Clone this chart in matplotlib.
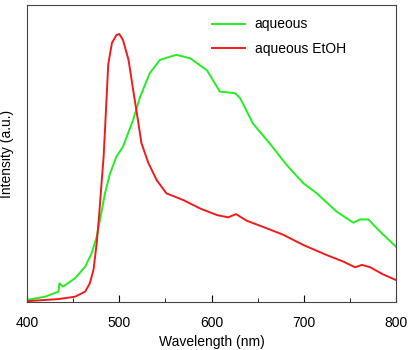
import numpy as np
import matplotlib.pyplot as plt
from matplotlib.ticker import MultipleLocator

plt.rcParams['font.family'] = ['Liberation Sans', 'DejaVu Sans']

# puntos (longitud de onda en nm, intensidad normalizada)
wl_aq = [400, 419.5, 434, 435, 439, 452, 463, 470, 475.5, 479, 484.5, 490, 497, 504,
         515, 522.5, 533, 544, 562, 577, 595, 609, 625.5, 631, 645, 663, 681.5, 699.5,
         714, 735.7, 753.7, 761, 770, 782.7, 800]
int_aq = [0.007, 0.018, 0.035, 0.063, 0.052, 0.08, 0.119, 0.164, 0.22, 0.276, 0.366,
          0.433, 0.49, 0.523, 0.613, 0.69, 0.77, 0.815, 0.832, 0.82, 0.78, 0.708, 0.703,
          0.686, 0.60, 0.534, 0.461, 0.40, 0.366, 0.304, 0.267, 0.278, 0.278, 0.237,
          0.186]

wl_et = [400, 434, 452, 463, 468, 472, 475.5, 478, 480, 483, 484.5, 488, 492, 497, 500,
         504, 510, 515, 519, 524, 531.5, 540.6, 551, 569.5, 587.5, 605.6, 618, 626.5,
         638, 660, 678, 699.5, 725, 743, 755.6, 763, 772, 786, 800]
int_et = [0.003, 0.01, 0.018, 0.035, 0.063, 0.108, 0.198, 0.287, 0.37, 0.49, 0.58,
          0.80, 0.872, 0.899, 0.902, 0.882, 0.815, 0.714, 0.636, 0.535, 0.468, 0.41,
          0.366, 0.343, 0.315, 0.293, 0.285, 0.296, 0.274, 0.248, 0.226, 0.192, 0.158,
          0.136, 0.117, 0.125, 0.117, 0.093, 0.074]

fig = plt.figure(figsize=(4.1, 3.5), dpi=100)
ax = fig.add_axes([0.066, 0.137, 0.9, 0.849])

ax.plot(wl_aq, int_aq, color='#22ee22', lw=1.4, label='aqueous')
ax.plot(wl_et, int_et, color='#ee1c1c', lw=1.4, label='aqueous EtOH')

ax.set_xlim(400, 800)
ax.set_ylim(0, 1)
ax.xaxis.set_major_locator(MultipleLocator(100))
ax.xaxis.set_minor_locator(MultipleLocator(50))
ax.tick_params(axis='x', which='major', direction='in', length=5, labelsize=10, pad=10)
ax.tick_params(axis='x', which='minor', direction='in', length=3)
ax.set_yticks([])
for s in ax.spines.values():
    s.set_color('#444444')

ax.set_xlabel('Wavelength (nm)', fontsize=10, labelpad=4)
ax.set_ylabel('Intensity (a.u.)', fontsize=10)
ax.yaxis.set_label_coords(-0.035, 0.5)

ax.legend(loc='upper left', bbox_to_anchor=(0.50, 0.958), frameon=False, fontsize=10,
          handlelength=2.4, handletextpad=0.7, labelspacing=0.75,
          borderpad=0, borderaxespad=0)

plt.savefig('out.png', dpi=100)
